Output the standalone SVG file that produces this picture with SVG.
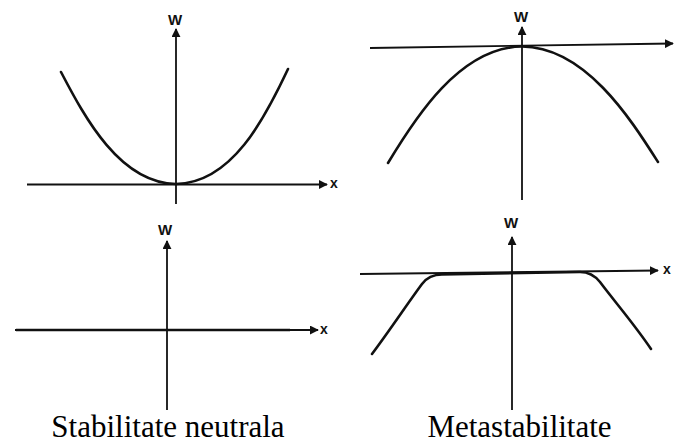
<svg xmlns="http://www.w3.org/2000/svg" width="678" height="448" viewBox="0 0 678 448">
<style>
.axis{fill:none;stroke:#111;stroke-width:1.8}
.curve{fill:none;stroke:#111;stroke-width:2.6;stroke-linecap:round;stroke-linejoin:round}
.lbl{font-family:"Liberation Sans",Arial,sans-serif;font-weight:bold;font-size:15px;fill:#111;text-anchor:middle}
.xl{font-family:"Liberation Sans",Arial,sans-serif;font-weight:bold;font-size:14px;fill:#111}
.cap{font-family:"Liberation Serif","Times New Roman",serif;font-size:31px;fill:#000;text-anchor:middle}
</style>
<defs>
<marker id="ah" viewBox="0 0 10 10" refX="9" refY="5" markerWidth="9" markerHeight="9" markerUnits="userSpaceOnUse" orient="auto">
<path d="M0,0 L10,5 L0,10 Z" fill="#111"/>
</marker>
</defs>
<rect width="678" height="448" fill="#fff"/>
<g id="connectors">
<line class="axis" x1="176" y1="204" x2="176" y2="29" marker-end="url(#ah)"/>
<line class="axis" x1="27" y1="184.5" x2="327" y2="184.5" marker-end="url(#ah)"/>
<line class="axis" x1="522" y1="200" x2="522" y2="27" marker-end="url(#ah)"/>
<line class="axis" x1="370" y1="48" x2="673" y2="43.5" marker-end="url(#ah)"/>
<line class="axis" x1="167" y1="410" x2="167" y2="241" marker-end="url(#ah)"/>
<line class="axis" x1="15" y1="330" x2="318" y2="330" marker-end="url(#ah)"/>
<line class="axis" x1="512" y1="410" x2="512" y2="237" marker-end="url(#ah)"/>
<line class="axis" x1="360" y1="274" x2="658" y2="270.5" marker-end="url(#ah)"/>
</g>
<g id="stabil">
<path class="curve" d="M61,72 C85,118 120,183 176,184 C232,183 265,118 288,69"/>
<text class="lbl" x="175" y="25">W</text>
<text class="xl" x="330" y="188">x</text>
</g>
<g id="instabil">
<path class="curve" d="M388,163 C415,118 460,47 522,46.5 C585,47 630,118 658,162"/>
<text class="lbl" x="521" y="22">W</text>
</g>
<g id="neutral">
<line x1="16" y1="330" x2="290" y2="330" stroke="#111" stroke-width="2.4"/>
<text class="lbl" x="165" y="235">W</text>
<text class="xl" x="320" y="334">x</text>
<text class="cap" x="168" y="437">Stabilitate neutrala</text>
</g>
<g id="metastabil">
<path class="curve" d="M372,354 C390,330 410,300 422,284 Q429,274.5 442,274.5 L580,272 Q592,272 600,282 C615,302 635,325 651,349"/>
<text class="lbl" x="511" y="228">W</text>
<text class="xl" x="663" y="274">x</text>
<text class="cap" x="519.5" y="437">Metastabilitate</text>
</g>
</svg>
